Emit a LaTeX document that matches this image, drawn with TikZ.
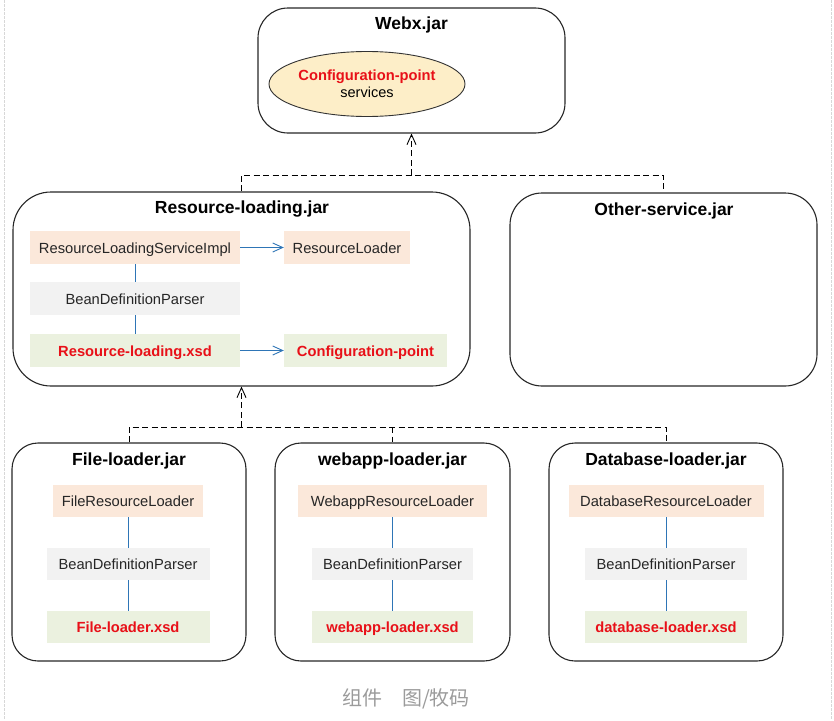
\documentclass[tikz,border=0pt]{standalone}
\usepackage{fontspec}
\setmainfont{Liberation Sans}
\newfontfamily\cjk{Noto Sans CJK SC}
\usetikzlibrary{arrows.meta,shapes.geometric}
\definecolor{peach}{RGB}{251,232,218}
\definecolor{lgray}{RGB}{242,242,242}
\definecolor{lgreen}{RGB}{235,241,223}
\definecolor{cyel}{RGB}{253,238,200}
\definecolor{cred}{RGB}{232,16,24}
\definecolor{cblue}{RGB}{46,117,182}
\definecolor{capgray}{RGB}{155,155,155}
\definecolor{framegray}{RGB}{215,215,215}
\tikzset{
  jar/.style={draw=black!85, line width=1.1pt, rounded corners=#1, inner sep=0pt},
  jartitle/.style={font=\fontsize{17.5}{20}\selectfont\bfseries, inner sep=0pt, anchor=base},
  inbox/.style={fill=#1, draw=none, inner sep=0pt, font=\fontsize{14.7}{17}\selectfont, text=black!85, text height=14pt, text depth=3pt},
  xsd/.style={inbox=lgreen, font=\fontsize{14.7}{17}\selectfont\bfseries, text=cred},
  dep/.style={draw=black, line width=0.9pt, dash pattern=on 6pt off 3.5pt},
  deparrow/.style={dep, -{Straight Barb[length=10pt,width=9pt,line width=0.9pt]}},
  link/.style={draw=cblue, line width=0.9pt},
  linkarrow/.style={link, -{Straight Barb[length=10pt,width=9pt,line width=0.9pt]}},
}
\begin{document}
\begin{tikzpicture}[x=1pt,y=-1pt]
\useasboundingbox (0,0) rectangle (834,720);
% faint frame lines
\draw[framegray, line width=0.8pt, dash pattern=on 3pt off 1pt] (4,0) -- (4,720);
\draw[framegray, line width=0.8pt, dash pattern=on 3pt off 1pt] (831,0) -- (831,720);

% Webx.jar
\node[jar=30pt, minimum width=307pt, minimum height=125pt] (webx) at (411.5,70.5) {};
\node[jartitle] (webxt) at (411.5,29) {Webx.jar};
\node[ellipse, draw=black!80, line width=0.9pt, fill=cyel, minimum width=196pt, minimum height=65pt, inner sep=0pt] (cps) at (367,84) {};
\node[inner sep=0pt, anchor=base, font=\fontsize{14.7}{17}\selectfont\bfseries, text=cred] (cpst) at (367,80) {Configuration-point};
\node[inner sep=0pt, anchor=base, font=\fontsize{14.5}{17}\selectfont] (cpss) at (367,97.5) {services};

% Resource-loading.jar
\node[jar=38pt, minimum width=457pt, minimum height=194pt] (rl) at (241.5,289) {};
\node[jartitle] (rlt) at (242,213.5) {Resource-loading.jar};
\node[inbox=peach, minimum width=210pt, minimum height=33pt] (rlsi) at (135,247.5) {ResourceLoadingServiceImpl};
\node[inbox=peach, minimum width=126pt, minimum height=33pt] (rlo) at (347,247.5) {ResourceLoader};
\node[inbox=lgray, minimum width=210pt, minimum height=33pt] (rlbp) at (135,298.5) {BeanDefinitionParser};
\node[xsd, minimum width=210pt, minimum height=33pt] (rlx) at (135,350.5) {Resource-loading.xsd};
\node[xsd, minimum width=163pt, minimum height=33pt] (rlcp) at (365.5,350.5) {Configuration-point};
\draw[linkarrow] (rlsi) -- (rlo);
\draw[linkarrow] (rlx) -- (rlcp);
\draw[link] (rlsi) -- (rlbp);
\draw[link] (rlbp) -- (rlx);

% Other-service.jar
\node[jar=32pt, minimum width=307pt, minimum height=193pt] (os) at (663.5,289.5) {};
\node[jartitle] (ost) at (664,215) {Other-service.jar};

% top dependency tree
\coordinate (top) at (0,175);
\draw[dep] (rl.north) |- (os.north |- top) -- (os.north);
\draw[deparrow] (webx.south |- top) -- (webx.south);

% File-loader.jar
\node[jar=26pt, minimum width=234pt, minimum height=218pt] (fl) at (129,552) {};
\node[jartitle] (flt) at (129,465) {File-loader.jar};
\node[inbox=peach, minimum width=150pt, minimum height=32pt] (flr) at (128,501) {FileResourceLoader};
\node[inbox=lgray, minimum width=163pt, minimum height=32pt] (flb) at (128,564) {BeanDefinitionParser};
\node[xsd, minimum width=163pt, minimum height=32pt] (flx) at (128,627) {File-loader.xsd};
\draw[link] (flr) -- (flb);
\draw[link] (flb) -- (flx);

% webapp-loader.jar
\node[jar=26pt, minimum width=235pt, minimum height=218pt] (wl) at (392.5,552) {};
\node[jartitle] (wlt) at (392.5,465) {webapp-loader.jar};
\node[inbox=peach, minimum width=189pt, minimum height=32pt] (wlr) at (392.5,501) {WebappResourceLoader};
\node[inbox=lgray, minimum width=161pt, minimum height=32pt] (wlb) at (392.5,564) {BeanDefinitionParser};
\node[xsd, minimum width=161pt, minimum height=32pt] (wlx) at (392.5,627) {webapp-loader.xsd};
\draw[link] (wlr) -- (wlb);
\draw[link] (wlb) -- (wlx);

% Database-loader.jar
\node[jar=26pt, minimum width=234pt, minimum height=218pt] (dl) at (666,552) {};
\node[jartitle] (dlt) at (666,465) {Database-loader.jar};
\node[inbox=peach, minimum width=195pt, minimum height=32pt] (dlr) at (666,501) {DatabaseResourceLoader};
\node[inbox=lgray, minimum width=162pt, minimum height=32pt] (dlb) at (666,564) {BeanDefinitionParser};
\node[xsd, minimum width=162pt, minimum height=32pt] (dlx) at (666,627) {database-loader.xsd};
\draw[link] (dlr) -- (dlb);
\draw[link] (dlb) -- (dlx);

% bottom dependency tree
\coordinate (bot) at (0,427);
\draw[dep] (fl.north) |- (dl.north |- bot) -- (dl.north);
\draw[dep] (wl.north |- bot) -- (wl.north);
\draw[deparrow] (rl.south |- bot) -- (rl.south);

% caption
\node[inner sep=0pt, text=capgray, font=\cjk\fontsize{20}{23}\selectfont] (cap) at (406,698.5) {组件　图/牧码};
\end{tikzpicture}
\end{document}
